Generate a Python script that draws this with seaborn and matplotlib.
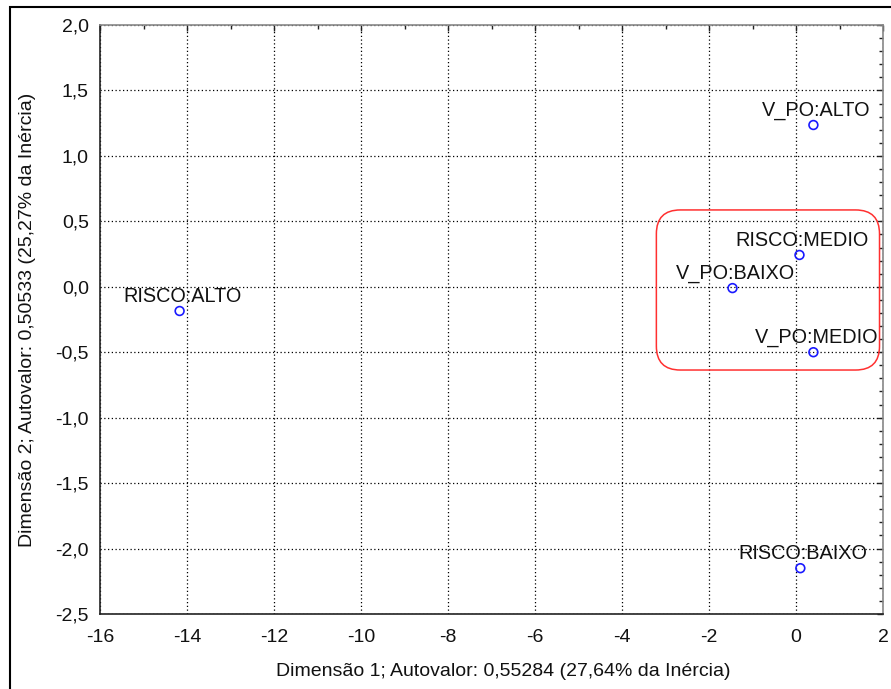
import matplotlib
matplotlib.use("Agg")
import matplotlib.pyplot as plt
import seaborn as sns
import pandas as pd
from matplotlib.ticker import MultipleLocator, FuncFormatter
from matplotlib.patches import FancyBboxPatch, Rectangle

labels = ["V_PO:ALTO", "RISCO:MEDIO", "V_PO:BAIXO", "V_PO:MEDIO", "RISCO:ALTO", "RISCO:BAIXO"]
dim1 = [0.40, 0.08, -1.46, 0.40, -14.17, 0.10]
dim2 = [1.236, 0.243, -0.01, -0.50, -0.185, -2.15]

xlabel = "Dimensão 1; Autovalor: 0,55284 (27,64% da Inércia)"
ylabel = "Dimensão 2; Autovalor: 0,50533 (25,27% da Inércia)"

df = pd.DataFrame({"label": labels, "d1": dim1, "d2": dim2})

sns.set_style("white")
plt.rcParams["font.family"] = ["Liberation Sans", "DejaVu Sans"]

W, H = 891, 689
fig = plt.figure(figsize=(W / 100, H / 100), dpi=100)
ax = fig.add_axes([100 / W, 1 - 614 / H, 783 / W, 589 / H])

sns.scatterplot(data=df, x="d1", y="d2", ax=ax, s=40, marker="o",
                facecolors="none", edgecolor="#1a1aff", linewidth=1.2, zorder=3)

for _, r in df.iterrows():
    ax.annotate(r["label"], (r["d1"], r["d2"]), xytext=(2, 6.5), textcoords="offset points",
                ha="center", va="baseline", fontsize=14.3, color="#111111")

ax.set_xlim(-16, 2)
ax.set_ylim(-2.5, 2.0)
ax.xaxis.set_major_locator(MultipleLocator(2))
ax.xaxis.set_minor_locator(MultipleLocator(1))
ax.yaxis.set_major_locator(MultipleLocator(0.5))
ax.yaxis.set_minor_locator(MultipleLocator(0.1))
ax.xaxis.set_major_formatter(FuncFormatter(lambda v, p: f"{v:.0f}"))
ax.yaxis.set_major_formatter(FuncFormatter(lambda v, p: f"{v:.1f}".replace(".", ",")))
ax.tick_params(axis="both", which="both", direction="in", top=True, right=True,
               labelsize=14, colors="#222222", labelcolor="#111111")
ax.tick_params(which="major", length=4, width=1)
ax.tick_params(which="minor", length=3, width=1)
ax.tick_params(axis="x", pad=11)
ax.tick_params(axis="y", pad=8)
ax.grid(True, which="major", linestyle=(0, (1, 2)), color="black", linewidth=0.9)

for side in ["left", "bottom"]:
    ax.spines[side].set_color("#222222")
    ax.spines[side].set_linewidth(1.2)
for side in ["top", "right"]:
    ax.spines[side].set_color("#888888")
    ax.spines[side].set_linewidth(1.2)

ax.set_xlabel(xlabel, fontsize=14, color="#111111")
ax.set_ylabel(ylabel, fontsize=14, color="#111111")
ax.xaxis.set_label_coords((503.5 - 100) / 783, (614 - 671) / 589)
ax.xaxis.label.set_va("center")
ax.yaxis.set_label_coords((28 - 100) / 783, 0.5)
ax.yaxis.label.set_va("center")

# highlight box (annotation) around the central cluster
xr = 18 / 783
yr = 4.5 / 589
aspect = yr / xr
box = FancyBboxPatch((-3.21, -0.636), 5.13, 1.223,
                     boxstyle="round,pad=0,rounding_size=0.55",
                     mutation_aspect=aspect, transform=ax.transData,
                     facecolor="none", edgecolor="#ff3030", linewidth=1.1,
                     zorder=4, clip_on=False)
ax.add_patch(box)

frame = Rectangle((10 / W, -0.05), 1.0, 1 - 7 / H + 0.05, transform=fig.transFigure,
                  facecolor="none", edgecolor="black", linewidth=1.5)
fig.patches.append(frame)

fig.savefig("out.png", dpi=100)
